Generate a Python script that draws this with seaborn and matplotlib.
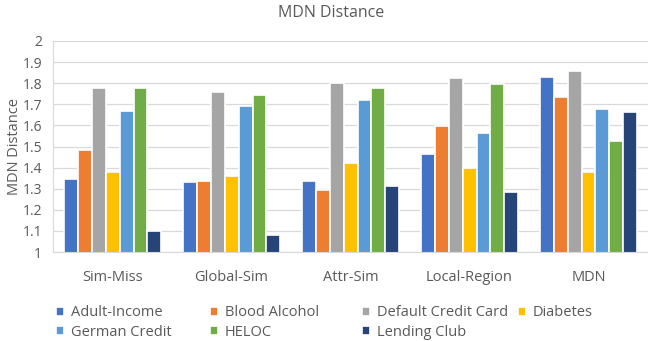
import pandas as pd
import numpy as np
import matplotlib
matplotlib.use("Agg")
import matplotlib.pyplot as plt
import seaborn as sns

# categories and series
methods = ["Sim-Miss", "Global-Sim", "Attr-Sim", "Local-Region", "MDN"]
datasets = ["Adult-Income", "Blood Alcohol", "Default Credit Card", "Diabetes",
            "German Credit", "HELOC", "Lending Club"]

adult_income = [1.345, 1.330, 1.335, 1.465, 1.830]
blood_alcohol = [1.483, 1.338, 1.293, 1.595, 1.733]
default_credit = [1.778, 1.760, 1.800, 1.825, 1.860]
diabetes = [1.378, 1.360, 1.423, 1.400, 1.380]
german_credit = [1.667, 1.690, 1.720, 1.565, 1.677]
heloc = [1.775, 1.742, 1.775, 1.795, 1.527]
lending_club = [1.098, 1.082, 1.315, 1.285, 1.665]

colors = ["#4472C4", "#ED7D31", "#A5A5A5", "#FFC000", "#5B9BD5", "#70AD47", "#264478"]

series = [adult_income, blood_alcohol, default_credit, diabetes,
          german_credit, heloc, lending_club]
rows = []
for name, vals in zip(datasets, series):
    for m, v in zip(methods, vals):
        rows.append({"method": m, "dataset": name, "value": v})
df = pd.DataFrame(rows)

sns.set_style("white")
plt.rcParams["font.family"] = ["Open Sans", "DejaVu Sans"]
txt = "#595959"

fig = plt.figure(figsize=(6.48, 3.41), dpi=100)
ax = fig.add_axes([0.082, 1 - 252 / 341, 0.918, (252 - 41) / 341])

sns.barplot(data=df, x="method", y="value", hue="dataset", hue_order=datasets,
            palette=colors, width=0.82, edgecolor="white", linewidth=1.2,
            saturation=1, ax=ax)

ticks = np.arange(1, 2.01, 0.1).round(1)
ax.set_ylim(1, 2)
ax.set_yticks(ticks)
ax.set_yticklabels([f"{t:g}" for t in ticks], fontsize=10, color=txt)
ax.set_xlim(-0.5, 4.5)
ax.tick_params(axis="x", labelsize=10.5, colors=txt, length=0, pad=13)
ax.tick_params(axis="y", length=0, pad=8)
ax.set_xticks([0.5, 1.5, 2.5, 3.5], minor=True)
ax.tick_params(axis="x", which="minor", length=4, color="#D9D9D9")
ax.grid(axis="y", color="#D9D9D9", linewidth=0.9)
ax.set_axisbelow(True)
for s in ["top", "right"]:
    ax.spines[s].set_visible(False)
ax.spines["left"].set_color("#D9D9D9")
ax.spines["bottom"].set_color("#D9D9D9")

ax.set_xlabel("")
ax.set_ylabel("MDN Distance", fontsize=10.5, color=txt)
ax.yaxis.set_label_coords(-0.052, 0.5)
fig.suptitle("MDN Distance", x=0.511, y=0.985, fontsize=11.5, color=txt)

# legend laid out row by row like the original (4 per row, equal columns)
handles, labels = ax.get_legend_handles_labels()
ax.legend_.remove()
col_x = [56 / 648, 210 / 648, 362 / 648, 518 / 648]
row_y = [1 - 313 / 341, 1 - 332 / 341]
for i, (h, lab) in enumerate(zip(handles, labels)):
    fig.legend([h], [lab], loc="center left",
               bbox_to_anchor=(col_x[i % 4], row_y[i // 4]),
               frameon=False, fontsize=10.5, handlelength=0.55, handleheight=0.55,
               handletextpad=0.45, borderpad=0, borderaxespad=0,
               labelcolor=txt)

fig.savefig("out.png", dpi=100)
